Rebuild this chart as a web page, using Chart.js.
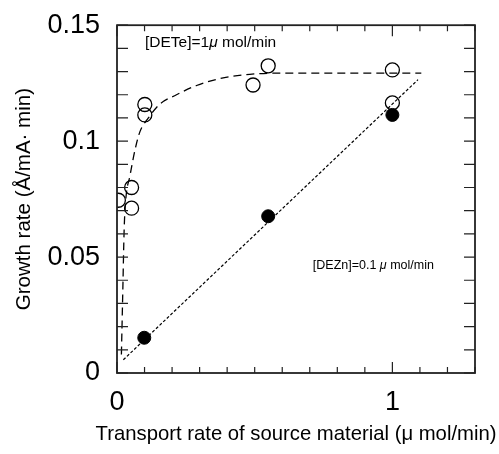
<!DOCTYPE html>
<html>
<head>
<meta charset="utf-8">
<script src="https://cdn.jsdelivr.net/npm/chart.js@4"></script>
<style>
  html, body { margin: 0; padding: 0; background: #fff; }
  #wrap { width: 499px; height: 454px; }
</style>
</head>
<body>
<div id="wrap"><canvas id="grafik" width="499" height="454"></canvas></div>
<script>
// measured points, DETe = 1 umol/min (open circles)
const deteX = [0.005, 0.053, 0.053, 0.101, 0.101, 0.494, 0.549, 1.0, 1.0];
const deteY = [0.0745, 0.080, 0.0711, 0.1158, 0.1113, 0.1242, 0.1325, 0.1307, 0.1165];

// measured points, DEZn = 0.1 umol/min (filled circles)
const deznX = [0.099, 0.549, 1.0];
const deznY = [0.0152, 0.0676, 0.1113];

// dashed guide curve
const deteFitX = [0.016, 0.021, 0.026, 0.032, 0.047, 0.065, 0.083, 0.114, 0.156, 0.216, 0.289, 0.374, 0.482, 0.58, 1.105];
const deteFitY = [0.008, 0.035, 0.062, 0.075, 0.085, 0.096, 0.104, 0.110, 0.116, 0.120, 0.124, 0.127, 0.1288, 0.1293, 0.1293];

// dotted guide line
const deznFitX = [0.023, 1.093];
const deznFitY = [0.0057, 0.1265];

// axes
const xTickValues = [0, 1];
const xTickLabels = ['0', '1'];
const yTickValues = [0, 0.05, 0.1, 0.15];
const yTickLabels = ['0', '0.05', '0.1', '0.15'];
const xMinorStep = 0.1;
const yMinorStep = 0.01;
const xTitle = 'Transport rate of source material (μ mol/min)';

const FONT = '"Liberation Sans", Arial, Helvetica, sans-serif';

function toPoints(xs, ys) {
  return xs.map(function(x, i) { return { x: x, y: ys[i] }; });
}

// frame + inward ticks on all four sides, the two notes, and the x title
// (the x title is wider than the plot, chart.js would squeeze it)
const frameTicks = {
  id: 'frameTicks',
  afterDatasetsDraw: function(chart) {
    const ctx = chart.ctx;
    const a = chart.chartArea;
    const xs = chart.scales.x;
    const ys = chart.scales.y;
    ctx.save();
    ctx.strokeStyle = '#222';
    ctx.lineWidth = 1.2;
    // ticks along x (bottom and top)
    for (let i = 0; i * xMinorStep <= xs.max + 1e-9; i++) {
      const v = i * xMinorStep;
      const px = xs.getPixelForValue(v);
      const len = (Math.abs(v - Math.round(v)) < 1e-9) ? 11 : 6;
      ctx.beginPath();
      ctx.moveTo(px, a.bottom); ctx.lineTo(px, a.bottom - len);
      ctx.moveTo(px, a.top); ctx.lineTo(px, a.top + len);
      ctx.stroke();
    }
    // ticks along y (left and right)
    for (let i = 0; i * yMinorStep <= ys.max + 1e-9; i++) {
      const py = ys.getPixelForValue(i * yMinorStep);
      ctx.beginPath();
      ctx.moveTo(a.left, py); ctx.lineTo(a.left + 11, py);
      ctx.moveTo(a.right, py); ctx.lineTo(a.right - 11, py);
      ctx.stroke();
    }
    ctx.lineWidth = 1.8;
    ctx.strokeStyle = '#222';
    ctx.strokeRect(a.left, a.top, a.right - a.left, a.bottom - a.top);

    // notes
    function note(x, y, size, parts) {
      let px = xs.getPixelForValue(x);
      const py = ys.getPixelForValue(y);
      ctx.fillStyle = '#000';
      ctx.textBaseline = 'middle';
      ctx.textAlign = 'left';
      parts.forEach(function(p) {
        ctx.font = (p.italic ? 'italic ' : '') + size + 'px ' + FONT;
        ctx.fillText(p.t, px, py);
        px += ctx.measureText(p.t).width;
      });
    }
    note(0.1016, 0.1425, 15.5, [{ t: '[DETe]=1' }, { t: 'μ', italic: true }, { t: ' mol/min' }]);
    note(0.711, 0.0465, 12.5, [{ t: '[DEZn]=0.1 ' }, { t: 'μ', italic: true }, { t: ' mol/min' }]);

    // x title
    ctx.font = '20.3px ' + FONT;
    ctx.textAlign = 'center';
    ctx.textBaseline = 'middle';
    ctx.fillStyle = '#000';
    ctx.fillText(xTitle, (a.left + a.right) / 2, 434);
    ctx.restore();
  }
};

const ctx = document.getElementById('grafik').getContext('2d');

new Chart(ctx, {
  type: 'scatter',
  data: {
    datasets: [
      {
        label: 'DETe fit',
        data: toPoints(deteFitX, deteFitY),
        showLine: true,
        borderColor: '#000',
        borderWidth: 1.3,
        borderDash: [8, 5],
        pointRadius: 0,
        cubicInterpolationMode: 'monotone',
        order: 3
      },
      {
        label: 'DEZn fit',
        data: toPoints(deznFitX, deznFitY),
        showLine: true,
        borderColor: '#000',
        borderWidth: 1.2,
        borderDash: [3, 2],
        pointRadius: 0,
        order: 4
      },
      {
        label: '[DETe]=1',
        data: toPoints(deteX, deteY),
        pointStyle: 'circle',
        pointRadius: 7,
        backgroundColor: 'rgba(0,0,0,0)',
        borderColor: '#000',
        borderWidth: 1.3,
        order: 1
      },
      {
        label: '[DEZn]=0.1',
        data: toPoints(deznX, deznY),
        pointStyle: 'circle',
        pointRadius: 6.5,
        backgroundColor: '#000',
        borderColor: '#000',
        borderWidth: 1,
        order: 2
      }
    ]
  },
  options: {
    responsive: false,
    animation: false,
    layout: { padding: { left: 0, top: 15, right: 24, bottom: 0 } },
    plugins: {
      legend: { display: false },
      tooltip: { enabled: false }
    },
    scales: {
      x: {
        type: 'linear',
        min: 0,
        max: 1.3,
        afterFit: function(s) { s.height = 81; },
        afterBuildTicks: function(s) { s.ticks = xTickValues.map(function(v) { return { value: v }; }); },
        grid: { display: false },
        border: { display: false },
        ticks: {
          padding: 5,
          color: '#000',
          font: { family: FONT, size: 27 },
          maxRotation: 0,
          callback: function(value, index) { return xTickLabels[index]; }
        },
        title: { display: false }
      },
      y: {
        type: 'linear',
        min: 0,
        max: 0.15,
        afterFit: function(s) { s.width = 117; },
        afterBuildTicks: function(s) { s.ticks = yTickValues.map(function(v) { return { value: v }; }); },
        grid: { display: false },
        border: { display: false },
        ticks: {
          padding: 9,
          color: '#000',
          font: { family: FONT, size: 27 },
          callback: function(value, index) { return yTickLabels[index]; }
        },
        title: {
          display: true,
          text: 'Growth rate (Å/mA· min)',
          color: '#000',
          font: { family: FONT, size: 20.5 },
          padding: { top: 12, bottom: 0 }
        }
      }
    }
  },
  plugins: [frameTicks]
});
</script>
</body>
</html>
